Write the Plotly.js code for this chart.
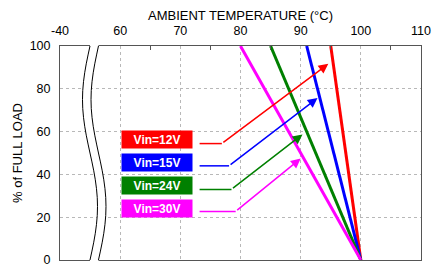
<!DOCTYPE html>
<html><head><meta charset="utf-8">
<script src="https://cdn.plot.ly/plotly-3.0.1.min.js"></script>
<style>html,body{margin:0;padding:0;background:#fff}#c{width:438px;height:264px}</style>
</head><body><div id="c"></div>
<script>
// Derating data
const labels = ['Vin=12V', 'Vin=15V', 'Vin=24V', 'Vin=30V'];
const colors = ['#ff0000', '#0000ff', '#008000', '#ff00ff'];
const startTemp = [95, 91, 85, 80];   // temperature at 100% load
const startLoad = [100, 100, 100, 100];
const endTemp = [100, 100, 100, 100]; // temperature at 0% load
const endLoad = [0, 0, 0, 0];
// Callout arrows (label -> line)
const calloutStartX = [73.2, 73.2, 73.2, 73.2];
const calloutY = [54.4, 44.0, 33.0, 22.7];
const calloutCornerX = [76.9, 78.1, 78.5, 79.2];
const calloutEndX = [94.6, 92.8, 90.3, 90.0];
const calloutEndY = [91.7, 75.7, 58.7, 47.4];
// Label box centers
const boxX = [66.1, 66.1, 66.1, 66.1];
const boxY = [56.3, 45.5, 34.9, 24.3];
// Axis ticks
const xTickVals = [50, 60, 70, 80, 90, 100, 110];
const xTickText = ['-40', '60', '70', '80', '90', '100', '110'];
const xMinorVals = [65, 75, 85, 95, 105];

const traces = [];
const annotations = [];
for (let i = 0; i < labels.length; i++) {
  traces.push({x: [startTemp[i], endTemp[i]], y: [startLoad[i], endLoad[i]], mode: 'lines',
    line: {color: colors[i], width: 3}, showlegend: false, hoverinfo: 'skip'});
  traces.push({x: [calloutStartX[i], calloutCornerX[i]], y: [calloutY[i], calloutY[i]], mode: 'lines',
    line: {color: colors[i], width: 1.5}, showlegend: false, hoverinfo: 'skip'});
  annotations.push({x: calloutEndX[i], y: calloutEndY[i], ax: calloutCornerX[i], ay: calloutY[i],
    xref: 'x', yref: 'y', axref: 'x', ayref: 'y', text: '', showarrow: true,
    arrowhead: 2, arrowsize: 1.3, arrowwidth: 1.5, arrowcolor: colors[i]});
  annotations.push({x: boxX[i], y: boxY[i], xref: 'x', yref: 'y', text: '<b>' + labels[i] + '</b>',
    showarrow: false, bgcolor: colors[i], width: 70, height: 17, borderpad: 0,
    font: {family: 'Liberation Sans, Arial, sans-serif', size: 12, color: '#ffffff'}});
}

// Axis-break decoration (paper coordinates)
function curve(offset) {
  const pts = [];
  const W = 361;
  for (let k = 0; k <= 24; k++) {
    const t = k / 24;
    const px = 30 + offset - 7.5 * Math.sin(2 * Math.PI * t);
    pts.push([px / W, 1 - t]);
  }
  return pts;
}
const L = curve(0), R = curve(8.5);
const toPath = (pts) => pts.map((p, j) => (j ? 'L' : 'M') + p[0].toFixed(4) + ',' + p[1].toFixed(4)).join(' ');
const fillPts = [[L[0][0], 1.01]].concat(L).concat([[L[L.length-1][0], -0.01], [R[R.length-1][0], -0.01]])
  .concat(R.slice().reverse()).concat([[R[0][0], 1.01]]);
const shapes = [
  {type: 'path', xref: 'paper', yref: 'paper', path: toPath(fillPts) + ' Z', fillcolor: '#ffffff', line: {width: 0}, layer: 'above'},
  {type: 'path', xref: 'paper', yref: 'paper', path: toPath(L), line: {color: '#000', width: 1}, layer: 'above'},
  {type: 'path', xref: 'paper', yref: 'paper', path: toPath(R), line: {color: '#000', width: 1}, layer: 'above'}
];

const font = {family: 'Liberation Sans, Arial, sans-serif', size: 12, color: '#000'};
const layout = {
  width: 438, height: 264,
  margin: {l: 60, r: 17, t: 45.5, b: 4},
  paper_bgcolor: '#fff', plot_bgcolor: '#fff',
  font: font,
  showlegend: false,
  xaxis: {
    side: 'top', range: [50, 110], tickvals: xTickVals, ticktext: xTickText,
    showgrid: true, gridcolor: '#b8b8b8', griddash: 'dot', gridwidth: 1,
    showline: true, linecolor: '#555', linewidth: 1, mirror: true,
    ticks: '', zeroline: false, tickfont: {size: 12.5}, ticklabelstandoff: 5,
    minor: {tickvals: xMinorVals, ticks: 'inside', ticklen: 4, tickcolor: '#555', showgrid: false},
    title: {text: 'AMBIENT TEMPERATURE (°C)', font: {size: 13}, standoff: 0},
    fixedrange: true
  },
  yaxis: {
    range: [0, 100], dtick: 20,
    showgrid: true, gridcolor: '#b8b8b8', griddash: 'dot', gridwidth: 1,
    showline: true, linecolor: '#555', linewidth: 1, mirror: true,
    ticks: '', zeroline: false, tickfont: {size: 12.5}, ticklabelstandoff: 6,
    ticklabeloverflow: 'allow',
    title: {text: '% of FULL LOAD', font: {size: 13}, standoff: 4},
    fixedrange: true
  },
  shapes: shapes,
  annotations: annotations
};
Plotly.newPlot('c', traces, layout, {staticPlot: true, displayModeBar: false});
</script></body></html>
